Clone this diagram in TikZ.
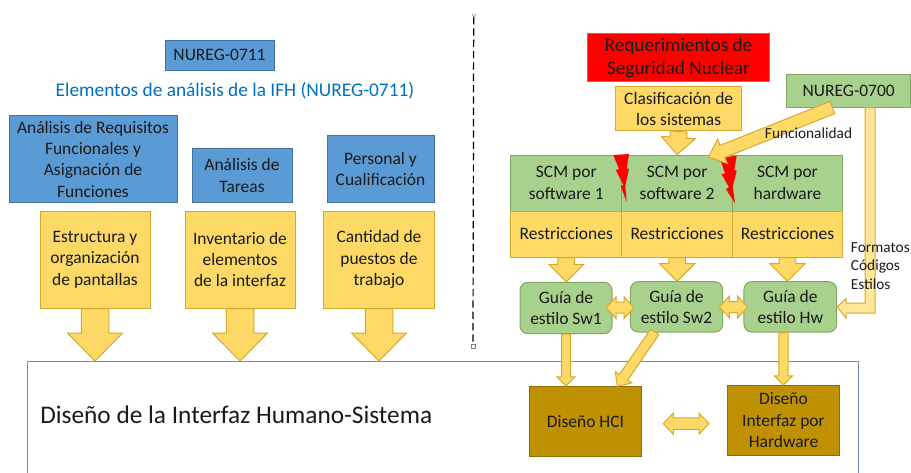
\documentclass[tikz,border=0pt]{standalone}
\usepackage{fontspec}
\setmainfont{Carlito}
\usetikzlibrary{calc}
\definecolor{yel}{HTML}{FFD966}
\definecolor{yelb}{HTML}{D6A92E}
\definecolor{yell}{HTML}{FFE699}
\definecolor{blu}{HTML}{5B9BD5}
\definecolor{blub}{HTML}{41719C}
\definecolor{gre}{HTML}{A9D18E}
\definecolor{greb}{HTML}{7FA860}
\definecolor{gol}{HTML}{BF9000}
\definecolor{golb}{HTML}{8F6C00}
\definecolor{txt}{HTML}{1A1A1A}
\definecolor{frame}{HTML}{6F8FAF}
\tikzset{
 x=0.75pt,y=-0.75pt,
 base/.style={draw,line width=0.75pt,align=center,inner sep=0pt,text=txt,font=\fontsize{13.1pt}{16pt}\selectfont},
 blubox/.style={base,fill=blu,draw=blub},
 yelbox/.style={base,fill=yel,draw=yelb},
 grebox/.style={base,fill=gre,draw=greb},
 golbox/.style={base,fill=gol,draw=golb},
 guide/.style={grebox,rounded corners=6pt},
 redbox/.style={base,fill=red,draw=red!70!white,font=\fontsize{14.4pt}{17.5pt}\selectfont},
 blockarrow/.style={fill=yel,draw=yelb,line width=0.75pt,line join=miter},
 smalltxt/.style={inner sep=0pt,text=txt,font=\fontsize{11.5pt}{13.5pt}\selectfont},
 bolt/.style={fill=red,draw=none},
}
% \barrow{from}{to}{shaft px}{head px}{head length px}
\newcommand\barrow[5]{%
 \coordinate (hb) at ($(#2)!{#5*0.75pt}!(#1)$);
 \draw[blockarrow]
  ($(#1)!{#3*0.375pt}!90:(#2)$) --
  ($(hb)!{#3*0.375pt}!90:(#2)$) --
  ($(hb)!{#4*0.375pt}!90:(#2)$) --
  (#2) --
  ($(hb)!{#4*0.375pt}!-90:(#2)$) --
  ($(hb)!{#3*0.375pt}!-90:(#2)$) --
  ($(#1)!{#3*0.375pt}!-90:(#2)$) -- cycle;}
% \darrow{left}{right}{shaft px}{head px}{head length px}
\newcommand\darrow[5]{%
 \coordinate (ha) at ($(#1)!{#5*0.75pt}!(#2)$);
 \coordinate (hb) at ($(#2)!{#5*0.75pt}!(#1)$);
 \draw[blockarrow]
  (#1) --
  ($(ha)!{#4*0.375pt}!90:(#2)$) --
  ($(ha)!{#3*0.375pt}!90:(#2)$) --
  ($(hb)!{#3*0.375pt}!90:(#2)$) --
  ($(hb)!{#4*0.375pt}!90:(#2)$) --
  (#2) --
  ($(hb)!{#4*0.375pt}!-90:(#2)$) --
  ($(hb)!{#3*0.375pt}!-90:(#2)$) --
  ($(ha)!{#3*0.375pt}!-90:(#2)$) --
  ($(ha)!{#4*0.375pt}!-90:(#2)$) -- cycle;}
\begin{document}
\begin{tikzpicture}
\useasboundingbox (0,0) rectangle (911,472);
\fill[white] (0,0) rectangle (911,472);
% frame
\node[draw=frame,line width=0.75pt,minimum width=831*0.75pt,minimum height=130*0.75pt,inner sep=0pt,anchor=north west] (big) at (26.5,361) {};
\node[inner sep=0pt,anchor=west,text=txt,font=\fontsize{19pt}{22pt}\selectfont] (bigt) at (40,415) {Diseño de la Interfaz Humano-Sistema};
% left
\node[blubox,minimum width=109*0.75pt,minimum height=30*0.75pt] (n711) at (219.5,55) {NUREG-0711};
\node[inner sep=0pt,text={rgb,255:red,0;green,112;blue,192},font=\fontsize{14.5pt}{16pt}\selectfont] (elem) at (235,91) {Elementos de análisis de la IFH (NUREG-0711)};
\node[blubox,minimum width=168*0.75pt,minimum height=87*0.75pt] (a1) at (93,159) {Análisis de Requisitos\\Funcionales y\\Asignación de\\Funciones};
\node[blubox,minimum width=100*0.75pt,minimum height=54*0.75pt] (a2) at (242,175.5) {Análisis de\\Tareas};
\node[blubox,minimum width=107*0.75pt,minimum height=67*0.75pt] (a3) at (380.5,169) {Personal y\\Cualificación};
\node[yelbox,minimum width=110*0.75pt,minimum height=97*0.75pt] (e1) at (95,259.5) {Estructura y\\organización\\de pantallas};
\node[yelbox,minimum width=110*0.75pt,minimum height=97*0.75pt] (e2) at (240,259.5) {Inventario de\\elementos\\de la interfaz};
\node[yelbox,minimum width=111*0.75pt,minimum height=97*0.75pt] (e3) at (379,259.5) {Cantidad de\\puestos de\\trabajo};
\foreach \n in {1,2,3}{
 \coordinate (t\n) at (e\n.south |- big.north);
 \barrow{e\n.south}{t\n}{27.5}{55}{28}
}
% divider
\coordinate (dtop) at (473.7,17);
\coordinate (dbot) at (473,344);
\draw[black,line width=0.9pt,dash pattern=on 5.5pt off 3pt] (dtop) -- (dbot);
\draw[gray,line width=0.4pt] (472,14) -- (473.9,17) -- (475.8,14);
\draw[gray,line width=0.4pt,fill=white] (471,344) rectangle (475,348);
% right
\node[redbox,minimum width=181.5*0.75pt,minimum height=48.5*0.75pt] (req) at (678.5,57.7) {Requerimientos de\\Seguridad Nuclear};
\node[yelbox,minimum width=125.5*0.75pt,minimum height=44.5*0.75pt] (cla) at (678.7,108.7) {Clasificación de\\los sistemas};
\node[grebox,minimum width=124.5*0.75pt,minimum height=32.5*0.75pt] (n700) at (848.7,91.2) {NUREG-0700};
\node[grebox,minimum width=110.7*0.75pt,minimum height=56*0.75pt] (s1) at (566.3,183) {SCM por\\software 1};
\node[grebox,minimum width=110.8*0.75pt,minimum height=56*0.75pt] (s2) at (677.1,183) {SCM por\\software 2};
\node[grebox,minimum width=110*0.75pt,minimum height=56*0.75pt] (s3) at (787.5,183) {SCM por\\hardware};
\node[yelbox,minimum width=110.7*0.75pt,minimum height=46*0.75pt] (r1) at (566.3,234) {Restricciones};
\node[yelbox,minimum width=110.8*0.75pt,minimum height=46*0.75pt] (r2) at (677.1,234) {Restricciones};
\node[yelbox,minimum width=110*0.75pt,minimum height=46*0.75pt] (r3) at (787.5,234) {Restricciones};
\node[guide,minimum width=92*0.75pt,minimum height=51.4*0.75pt] (g1) at (566,308) {Guía de\\estilo Sw1};
\node[guide,minimum width=92.4*0.75pt,minimum height=50.4*0.75pt] (g2) at (676.5,306.9) {Guía de\\estilo Sw2};
\node[guide,minimum width=92.7*0.75pt,minimum height=50.4*0.75pt] (g3) at (790.3,306.9) {Guía de\\estilo Hw};
\node[golbox,minimum width=112.4*0.75pt,minimum height=70.5*0.75pt] (hci) at (585.5,421.7) {Diseño HCI};
\node[golbox,minimum width=112.4*0.75pt,minimum height=69.7*0.75pt] (dh) at (783.5,420.2) {Diseño\\Interfaz por\\Hardware};
% lightning
\fill[bolt] (613.3,155) -- (629,154) -- (626.7,168.3) -- (629,169) -- (625.3,185.7) -- (626.7,201.7) -- (620.7,186.3) -- (623.3,185) -- (616,170.3) -- (619,169) -- cycle;
\fill[bolt] (720,158.3) -- (736.7,155.7) -- (734.3,170) -- (736.7,170.7) -- (732.7,186.7) -- (735,203.3) -- (726,189) -- (729,187.3) -- (721.7,174.3) -- (725,173.3) -- cycle;
% arrows right
\barrow{cla.south}{s2.north}{16.7}{34}{17}
\coordinate (fa) at (832.3,107.5);
\coordinate (fb) at (708.5,157);
\barrow{fa}{fb}{13}{26}{15}
\foreach \n in {1,2,3}{
 \coordinate (gt\n) at (r\n.south |- g\n.north);
 \barrow{r\n.south}{gt\n}{16.7}{35}{17.5}
}
\coordinate (xa) at (606,307.7);
\coordinate (xb) at (634,307.7);
\darrow{xa}{xb}{11}{21.7}{10}
\draw[blockarrow,fill=yell] (865,107.5) -- (865,303) -- (846,303) -- (846,298.7) -- (g3.east) -- (846,318) -- (846,313) -- (875,313) -- (875,107.5) -- cycle;
\coordinate (ya) at (719.3,307);
\coordinate (yb) at (747.7,307);
\darrow{ya}{yb}{11}{21.7}{10}
\coordinate (gb) at (g1.south |- hci.north);
\barrow{g1.south}{gb}{9}{17.7}{9}
\coordinate (gc) at (654.7,332);
\coordinate (gd) at (617.3,386.3);
\barrow{gc}{gd}{10}{20}{11}
\coordinate (ge) at (dh.north |- g3.south);
\barrow{ge}{dh.north}{9.4}{18}{9}
\coordinate (da) at (663.3,423.7);
\coordinate (db) at (709,423.7);
\darrow{da}{db}{11.5}{21}{10}
% labels
\node[smalltxt,anchor=west] (fun) at (764.7,133.5) {Funcionalidad};
\node[smalltxt,anchor=west] (l1) at (850.7,248) {Formatos};
\node[smalltxt,anchor=west] (l2) at (850.7,266) {Códigos};
\node[smalltxt,anchor=west] (l3) at (850.7,284.5) {Estilos};
\end{tikzpicture}
\end{document}
